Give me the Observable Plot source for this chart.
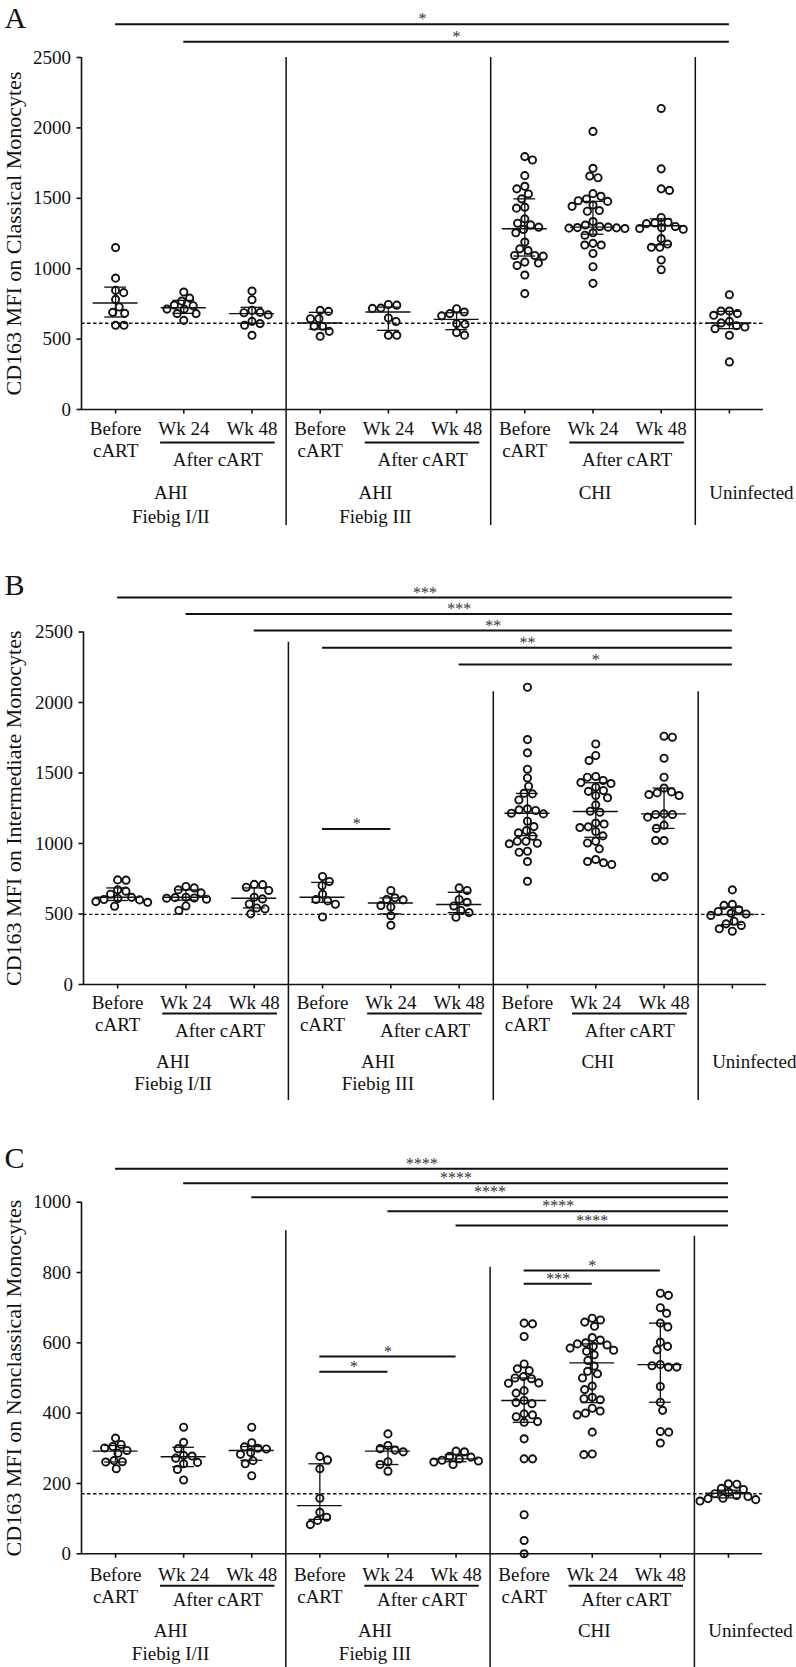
<!DOCTYPE html>
<html><head><meta charset="utf-8">
<script src="https://cdn.jsdelivr.net/npm/d3@7"></script>
<script src="https://cdn.jsdelivr.net/npm/@observablehq/plot@0.6"></script>
<style>
body{margin:0;background:#fff;}
#chart{width:796px;}
#chart svg{display:block;}
</style></head><body><div id="chart"></div>
<script>
// ---------- shared category / label data ----------
const categories = ["AHI I/II Before","AHI I/II Wk24","AHI I/II Wk48","AHI III Before","AHI III Wk24","AHI III Wk48","CHI Before","CHI Wk24","CHI Wk48","Uninfected"];
const tickLine1 = ["Before","Wk 24","Wk 48","Before","Wk 24","Wk 48","Before","Wk 24","Wk 48",""];
const tickLine2 = ["cART","","","cART","","","cART","","",""];
const afterStart = [1,4,7];
const afterEnd = [2,5,8];
const afterText = "After cART";
const groupAt = [1,4,7,9];
const groupLine1 = ["AHI","AHI","CHI","Uninfected"];
const groupLine2 = ["Fiebig I/II","Fiebig III","",""];
const dividers = [2.5,5.5,8.5];

// ---------- Panel A: Classical ----------
const classicalValues = [
  [1150,933,846,830,782,728,690,683,598,598],
  [834,791,770,742,737,713,713,681,681,633],
  [841,780,704,690,687,672,626,610,598,527],
  [704,697,645,645,591,591,555,520],
  [746,741,720,718,650,625,527,527],
  [716,692,681,665,610,606,547,528],
  [1796,1772,1661,1585,1567,1531,1496,1437,1430,1354,1323,1311,1295,1279,1255,1189,1141,1129,1094,1094,1089,1047,1040,1023,955,823],
  [1975,1713,1658,1646,1533,1514,1495,1483,1478,1452,1443,1413,1408,1335,1310,1300,1295,1292,1290,1288,1285,1255,1238,1180,1168,1168,1108,1014,896],
  [2138,1709,1567,1556,1364,1330,1325,1320,1300,1290,1285,1280,1214,1175,1152,1152,1062,993],
  [815,699,699,681,669,626,615,595,586,574,527,338]
];
const classicalMedian = [756,723,681,614,692,640,1284,1295,1305,614];
const classicalQ1 = [657,683,612,570,562,567,1090,1245,1170,574];
const classicalQ3 = [869,775,726,690,727,687,1496,1478,1354,697];
const classicalRef = 613;
const classicalSigFrom = [0,1];
const classicalSigTo = [9,9];
const classicalSigLevel = [2737,2611];
const classicalSigLabel = ["*","*"];
const classicalDividerTop = [2500,2500,2500];

// ---------- Panel B: Intermediate ----------
const intermediateValues = [
  [742,740,672,662,640,618,610,603,600,588,583,555],
  [695,685,671,650,619,616,614,612,605,557,525],
  [710,708,690,667,619,607,571,543,536,501],
  [766,731,701,640,603,593,569,479],
  [667,615,603,600,560,550,488,420],
  [685,667,603,583,557,525,510,477],
  [2108,1737,1643,1527,1465,1406,1356,1352,1309,1246,1239,1234,1215,1210,1158,1120,1092,1075,1052,1016,1016,1002,998,945,938,872,732],
  [1706,1624,1588,1475,1470,1447,1432,1425,1400,1376,1370,1340,1324,1274,1229,1222,1145,1138,1118,1113,1085,1054,1016,1004,962,886,872,863,851],
  [1761,1754,1605,1470,1393,1366,1359,1347,1340,1210,1206,1206,1187,1130,1107,1021,1021,765,761],
  [671,568,561,530,518,505,500,490,449,430,419,395,378]
];
const intermediateMedian = [619,619,612,619,578,567,1215,1227,1210,496];
const intermediateQ1 = [596,598,543,583,501,510,1056,1044,1107,425];
const intermediateQ3 = [685,671,685,724,614,654,1355,1431,1393,548];
const intermediateRef = 497;
const intermediateSigFrom = [0,1,2,3,5,3];
const intermediateSigTo = [9,9,9,9,9,4];
const intermediateSigLevel = [2744,2628,2510,2389,2269,1102];
const intermediateSigLabel = ["***","***","**","**","*","*"];
const intermediateDividerTop = [2427,2077,2077];

// ---------- Panel C: Nonclassical ----------
const nonclassicalValues = [
  [329,311,305,301,294,286,265,262,261,242],
  [360,317,299,280,278,272,260,256,240,210],
  [360,316,304,300,298,288,283,265,256,222],
  [277,267,242,158,118,104,95,83],
  [341,308,299,295,290,262,254,235],
  [292,290,277,275,270,266,264,261,254],
  [656,654,618,540,526,521,504,500,498,486,485,464,457,436,430,427,398,395,390,376,374,327,270,270,111,38,0],
  [670,665,659,647,615,608,600,597,594,590,585,579,576,566,550,534,519,512,500,477,467,445,441,438,414,406,400,395,346,284,282],
  [741,735,700,684,656,645,602,590,580,538,535,531,531,476,431,408,348,346,315],
  [199,198,186,183,175,171,166,163,158,157,154,150]
];
const nonclassicalMedian = [292,276,294,137,292,270,436,543,538,172];
const nonclassicalQ1 = [261,248,266,98,254,262,374,430,431,159];
const nonclassicalQ3 = [308,303,305,256,305,282,500,597,656,181];
const nonclassicalRef = 171;
const nonclassicalSigFrom = [0,1,2,4,5,3,3,6,6];
const nonclassicalSigTo = [9,9,9,9,9,4,5,7,8];
const nonclassicalSigLevel = [1095,1054,1014,974,934,518,561,768,806];
const nonclassicalSigLabel = ["****","****","****","****","****","*","*","***","*"];
const nonclassicalDividerTop = [919,815,903];

// ---------- layout / style (not data) ----------
const FONT = "'Liberation Serif','Times New Roman',serif";
const INK = "#111";
const W = 796;
const groupShiftPx = [-13, -13, 2, 22];

function swarm(vals, pxPerY, diam) {
  const order = vals.map((v, i) => i).sort((a, b) => vals[b] - vals[a]);
  const placed = [];
  const out = new Array(vals.length).fill(0);
  let flip = 1;
  for (const i of order) {
    const y = vals[i] * pxPerY;
    const cands = [0];
    for (const p of placed) {
      const dy = y - p.y;
      if (Math.abs(dy) < diam) {
        const dx = Math.sqrt(diam * diam - dy * dy);
        cands.push(p.x + dx, p.x - dx);
      }
    }
    cands.sort((a, b) => Math.abs(a) - Math.abs(b) || (a - b) * flip);
    flip = -flip;
    for (const c of cands) {
      if (placed.every(p => (p.x - c) ** 2 + (p.y - y) ** 2 >= diam * diam - 1e-6)) {
        out[i] = c; placed.push({x: c, y}); break;
      }
    }
  }
  return out;
}

function panel(cfg) {
  const {values, median, q1, q3, ref, sigFrom, sigTo, sigLevel, sigLabel, dividerTop,
         letter, title, ymax, step, height, mt, mb, ml, mr, off, letterY} = cfg;
  const pxPerY = (height - mt - mb) / ymax;
  const pxPerX = (W - ml - mr) / categories.length;
  const points = [];
  values.forEach((vals, i) => {
    const o = swarm(vals, pxPerY, 8.4);
    vals.forEach((v, k) => points.push({i, v, x: i + o[k] / pxPerX}));
  });
  const stats = categories.map((c, i) => ({i, m: median[i], lo: q1[i], hi: q3[i]}));
  const sig = sigFrom.map((f, k) => ({f, t: sigTo[k], y: sigLevel[k], label: sigLabel[k]}));
  const divs = dividers.map((x, k) => ({x, top: dividerTop[k]}));
  const below = -116 / pxPerY;
  const ticks = categories.map((c, i) => ({i, l1: tickLine1[i], l2: tickLine2[i]}));
  const afters = afterStart.map((s, k) => ({s, e: afterEnd[k]}));
  const groups = groupAt.map((x, k) => ({x: x + groupShiftPx[k] / pxPerX, l1: groupLine1[k], l2: groupLine2[k]}));

  return Plot.plot({
    width: W, height,
    marginTop: mt, marginBottom: mb, marginLeft: ml, marginRight: mr,
    x: {domain: [-0.5, categories.length - 0.5]},
    y: {domain: [0, ymax]},
    style: {fontFamily: FONT, fontSize: "19px", color: INK, background: "#fff"},
    marks: [
      Plot.ruleY([ref], {x1: -0.5, x2: 9.5, stroke: INK, strokeWidth: 1.4, strokeDasharray: "3.5,2.5"}),
      Plot.ruleX(divs, {x: "x", y1: "top", y2: below, stroke: INK, strokeWidth: 1.5}),
      Plot.ruleX([-0.5], {y1: 0, y2: ymax, stroke: INK, strokeWidth: 1.6}),
      Plot.ruleY([0], {x1: -0.5, x2: 9.5, stroke: INK, strokeWidth: 1.6}),
      Plot.axisY({ticks: d3.range(0, ymax + 1, step), tickFormat: d => String(d), tickSize: 4.5, tickPadding: 6, label: null, strokeWidth: 1.6, fontSize: 19}),
      Plot.axisX({ticks: d3.range(10), tickSize: 4.5, tickFormat: () => "", label: null, strokeWidth: 1.6}),
      Plot.dot(points, {x: "x", y: "v", r: 3.6, stroke: INK, strokeWidth: 1.9, fill: "none"}),
      Plot.ruleX(stats, {x: "i", y1: "lo", y2: "hi", stroke: INK, strokeWidth: 1.3}),
      Plot.ruleY(stats, {y: "m", x1: d => d.i - 0.33, x2: d => d.i + 0.33, stroke: INK, strokeWidth: 1.4}),
      Plot.ruleY(stats, {y: "lo", x1: d => d.i - 0.16, x2: d => d.i + 0.16, stroke: INK, strokeWidth: 1.3}),
      Plot.ruleY(stats, {y: "hi", x1: d => d.i - 0.16, x2: d => d.i + 0.16, stroke: INK, strokeWidth: 1.3}),
      Plot.ruleY(sig, {y: "y", x1: "f", x2: "t", stroke: INK, strokeWidth: 2}),
      Plot.text(sig, {x: d => (d.f + d.t) / 2, y: "y", text: "label", dy: -5, fontSize: 16, fill: "#333", fontFamily: FONT}),
      Plot.text(ticks, {x: "i", y: 0, text: "l1", dy: off[0], fontSize: 19, fill: INK, fontFamily: FONT}),
      Plot.text(ticks, {x: "i", y: 0, text: "l2", dy: off[1], fontSize: 19, fill: INK, fontFamily: FONT}),
      Plot.ruleY(afters, {y: 0, x1: d => d.s - 0.34, x2: d => d.e + 0.34, dy: off[2], stroke: INK, strokeWidth: 2}),
      Plot.text(afters, {x: d => (d.s + d.e) / 2, y: 0, text: () => afterText, dy: off[3], fontSize: 19, fill: INK, fontFamily: FONT}),
      Plot.text(groups, {x: "x", y: 0, text: "l1", dy: off[4], fontSize: 19, fill: INK, fontFamily: FONT}),
      Plot.text(groups, {x: "x", y: 0, text: "l2", dy: off[5], fontSize: 19, fill: INK, fontFamily: FONT}),
      Plot.text([title], {frameAnchor: "left", textAnchor: "middle", rotate: -90, lineAnchor: "top", dx: 5 - ml, fontSize: 22, fill: INK, fontFamily: FONT}),
      Plot.text([letter], {frameAnchor: "top-left", textAnchor: "start", lineAnchor: "middle", dx: 4 - ml, dy: letterY - mt, fontSize: 30, fill: INK, fontFamily: FONT})
    ]
  });
}

const chart = document.getElementById("chart");
const panels = [
  {values: classicalValues, median: classicalMedian, q1: classicalQ1, q3: classicalQ3, ref: classicalRef,
   sigFrom: classicalSigFrom, sigTo: classicalSigTo, sigLevel: classicalSigLevel, sigLabel: classicalSigLabel,
   dividerTop: classicalDividerTop, letter: "A", title: "CD163 MFI on Classical Monocytes",
   ymax: 2500, step: 500, height: 545, mt: 57, mb: 136, ml: 81, mr: 33, off: [19, 41, 33, 50, 83, 107], letterY: 17.5},
  {values: intermediateValues, median: intermediateMedian, q1: intermediateQ1, q3: intermediateQ3, ref: intermediateRef,
   sigFrom: intermediateSigFrom, sigTo: intermediateSigTo, sigLevel: intermediateSigLevel, sigLabel: intermediateSigLabel,
   dividerTop: intermediateDividerTop, letter: "B", title: "CD163 MFI on Intermediate Monocytes",
   ymax: 2500, step: 500, height: 565, mt: 86.5, mb: 126, ml: 83, mr: 30, off: [18, 40, 29, 46, 77, 99], letterY: 39.5},
  {values: nonclassicalValues, median: nonclassicalMedian, q1: nonclassicalQ1, q3: nonclassicalQ3, ref: nonclassicalRef,
   sigFrom: nonclassicalSigFrom, sigTo: nonclassicalSigTo, sigLevel: nonclassicalSigLevel, sigLabel: nonclassicalSigLabel,
   dividerTop: nonclassicalDividerTop, letter: "C", title: "CD163 MFI on Nonclassical Monocytes",
   ymax: 1000, step: 200, height: 557, mt: 91.7, mb: 113.7, ml: 81, mr: 34, off: [21, 43, 32, 46, 77, 100], letterY: 47.5}
];
for (const p of panels) chart.appendChild(panel(p));
</script></body></html>
